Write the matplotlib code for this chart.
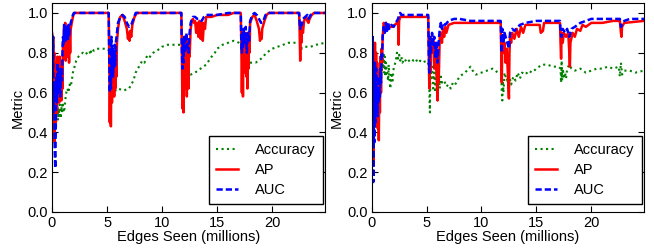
import numpy as np
import matplotlib
matplotlib.use("Agg")
import matplotlib.pyplot as plt

plt.rcParams['font.family'] = ['Liberation Sans', 'DejaVu Sans']

# ---- left panel ----
l_ap_x = [0.00, 0.05, 0.10, 0.15, 0.20, 0.25, 0.30, 0.35, 0.40, 0.45, 0.50, 0.55, 0.60, 0.65, 0.70, 0.75,
          0.80, 0.85, 0.90, 0.95, 1.00, 1.05, 1.10, 1.15, 1.20, 1.25, 1.30, 1.35, 1.40, 1.45, 1.50, 1.55,
          1.60, 1.65, 1.70, 1.80, 1.90, 2.00, 5.15, 5.20, 5.25, 5.30, 5.35, 5.40, 5.45, 5.50, 5.55, 5.60,
          5.65, 5.70, 5.75, 5.80, 5.85, 5.90, 6.00, 6.10, 6.20, 6.40, 6.60, 6.80, 6.90, 7.00, 7.05, 7.10,
          7.20, 7.30, 7.50, 7.70, 11.75, 11.80, 11.85, 11.90, 11.95, 12.00, 12.05, 12.10, 12.15, 12.20,
          12.25, 12.30, 12.35, 12.40, 12.45, 12.50, 12.60, 12.70, 12.80, 12.90, 13.00, 13.10, 13.20, 13.30,
          13.40, 13.50, 13.60, 13.70, 13.80, 13.90, 14.00, 14.50, 15.00, 16.00, 16.50, 17.15, 17.20, 17.25,
          17.30, 17.35, 17.40, 17.45, 17.50, 17.55, 17.60, 17.65, 17.70, 17.75, 17.80, 17.85, 17.90, 17.95,
          18.00, 18.20, 18.40, 18.60, 18.80, 18.90, 19.00, 19.05, 19.10, 19.30, 19.50, 19.70, 22.45, 22.50,
          22.55, 22.60, 22.65, 22.70, 22.80, 22.90, 23.00, 23.10, 23.20, 23.30, 23.40, 23.60, 23.80, 24.80]
l_ap_y = [0.90, 0.60, 0.88, 0.40, 0.80, 0.35, 0.70, 0.45, 0.75, 0.50, 0.78, 0.58, 0.75, 0.55, 0.78, 0.60,
          0.72, 0.56, 0.75, 0.62, 0.85, 0.78, 0.93, 0.80, 0.95, 0.76, 0.92, 0.78, 0.90, 0.82, 0.93, 0.75,
          0.90, 0.80, 0.92, 0.95, 0.98, 1.00, 1.00, 0.80, 0.45, 0.70, 0.43, 0.75, 0.55, 0.82, 0.60, 0.80,
          0.58, 0.78, 0.62, 0.80, 0.68, 0.85, 0.92, 0.96, 0.98, 0.99, 0.96, 0.92, 0.87, 0.90, 0.86, 0.91,
          0.88, 0.94, 0.98, 1.00, 1.00, 0.80, 0.52, 0.75, 0.50, 0.80, 0.62, 0.85, 0.65, 0.88,
          0.58, 0.82, 0.70, 0.62, 0.85, 0.78, 0.92, 0.96, 0.97, 0.95, 0.96, 0.90, 0.95, 0.88,
          0.96, 0.87, 0.95, 0.86, 0.95, 0.92, 0.98, 0.98, 0.99, 0.99, 1.00, 1.00, 0.85, 0.60,
          0.80, 0.58, 0.85, 0.70, 0.88, 0.75, 0.90, 0.68, 0.85, 0.62, 0.88, 0.72, 0.90, 0.80,
          0.95, 0.98, 0.99, 0.96, 0.92, 0.86, 0.90, 0.87, 0.92, 0.96, 0.99, 1.00, 1.00, 0.90,
          0.76, 0.92, 0.85, 0.95, 0.90, 0.96, 0.97, 0.98, 0.96, 0.95, 0.97, 0.99, 1.00, 1.00]

l_auc_x = [0.00, 0.05, 0.10, 0.15, 0.20, 0.25, 0.30, 0.35, 0.40, 0.45, 0.50, 0.55, 0.60, 0.65, 0.70, 0.75,
           0.80, 0.85, 0.90, 0.95, 1.00, 1.05, 1.10, 1.15, 1.20, 1.25, 1.30, 1.35, 1.40, 1.45, 1.50, 1.55,
           1.60, 1.70, 1.80, 1.90, 2.00, 5.15, 5.20, 5.25, 5.30, 5.35, 5.40, 5.45, 5.50, 5.55, 5.60, 5.65,
           5.70, 5.75, 5.80, 5.90, 6.00, 6.20, 6.40, 6.60, 6.80, 7.00, 7.20, 7.40, 7.60, 11.75, 11.80, 11.85,
           11.90, 11.95, 12.00, 12.10, 12.20, 12.30, 12.40, 12.50, 12.60, 12.80, 13.00, 13.20, 13.40, 13.60,
           13.80, 14.00, 15.00, 16.00, 17.15, 17.20, 17.25, 17.30, 17.35, 17.40, 17.50, 17.60, 17.70, 17.80,
           17.90, 18.00, 18.20, 18.40, 18.60, 18.80, 19.00, 19.20, 19.40, 19.60, 22.45, 22.50, 22.55, 22.60,
           22.70, 22.80, 23.00, 23.20, 23.30, 23.50, 23.70, 24.80]
l_auc_y = [0.90, 0.70, 0.88, 0.50, 0.65, 0.30, 0.22, 0.45, 0.68, 0.55, 0.75, 0.60, 0.72, 0.62, 0.70, 0.58,
           0.65, 0.72, 0.66, 0.80, 0.88, 0.84, 0.94, 0.88, 0.92, 0.85, 0.93, 0.87, 0.91, 0.86, 0.94, 0.88,
           0.92, 0.95, 0.97, 0.99, 1.00, 1.00, 0.78, 0.60, 0.72, 0.62, 0.88, 0.70, 0.82, 0.68, 0.80, 0.72,
           0.84, 0.74, 0.85, 0.90, 0.95, 0.98, 0.99, 0.98, 0.95, 0.93, 0.94, 0.97, 1.00, 1.00, 0.80, 0.72,
           0.85, 0.75, 0.88, 0.80, 0.90, 0.84, 0.80, 0.90, 0.95, 0.98, 0.98, 0.97, 0.97, 0.96,
           0.98, 0.99, 0.99, 1.00, 1.00, 0.85, 0.80, 0.90, 0.82, 0.92, 0.85, 0.93, 0.80, 0.90,
           0.86, 0.96, 0.99, 1.00, 0.99, 0.97, 0.95, 0.96, 0.99, 1.00, 1.00, 0.95, 0.92, 0.96,
           0.94, 0.97, 0.98, 0.99, 0.97, 0.99, 1.00, 1.00]

l_acc_x = [0.30, 0.35, 0.40, 0.45, 0.50, 0.55, 0.60, 0.65, 0.70, 0.75, 0.80, 0.85, 0.90, 0.95, 1.00, 1.10,
           1.20, 1.30, 1.40, 1.50, 1.60, 1.70, 1.80, 1.90, 2.00, 2.10, 2.20, 2.40, 2.60, 2.80, 3.00, 3.20,
           3.40, 3.50, 3.60, 3.80, 4.00, 4.50, 5.00, 5.20, 5.30, 5.40, 5.50, 5.60, 5.70, 5.80, 6.00, 6.50,
           7.00, 7.20, 7.40, 7.60, 7.80, 8.00, 8.20, 8.40, 8.60, 8.80, 9.00, 9.20, 9.50, 9.80, 10.00, 10.50,
           11.00, 11.50, 11.80, 11.90, 12.00, 12.30, 12.60, 13.00, 13.50, 14.00, 14.50, 14.80, 15.00, 15.50,
           16.00, 16.50, 17.00, 17.20, 17.40, 17.60, 18.00, 18.50, 19.00, 19.50, 20.00, 20.50, 21.00, 21.50,
           22.00, 22.50, 22.70, 23.00, 23.50, 24.00, 24.80]
l_acc_y = [0.52, 0.48, 0.55, 0.50, 0.53, 0.46, 0.52, 0.48, 0.54, 0.50, 0.47, 0.53, 0.50, 0.55, 0.52, 0.50,
           0.56, 0.60, 0.62, 0.60, 0.64, 0.63, 0.66, 0.70, 0.72, 0.74, 0.76, 0.78, 0.79, 0.80, 0.79, 0.80,
           0.81, 0.79, 0.82, 0.81, 0.82, 0.82, 0.82, 0.81, 0.70, 0.62, 0.65, 0.60, 0.62, 0.61, 0.62, 0.61,
           0.62, 0.64, 0.66, 0.70, 0.72, 0.74, 0.76, 0.75, 0.78, 0.77, 0.79, 0.80, 0.81, 0.82, 0.83, 0.84,
           0.84, 0.84, 0.84, 0.72, 0.70, 0.69, 0.69, 0.70, 0.72, 0.74, 0.78, 0.80, 0.82, 0.84,
           0.85, 0.86, 0.85, 0.84, 0.78, 0.75, 0.75, 0.75, 0.77, 0.80, 0.82, 0.83, 0.84, 0.85,
           0.85, 0.85, 0.82, 0.83, 0.83, 0.84, 0.85]

# ---- right panel ----
r_ap_x = [0.00, 0.05, 0.10, 0.15, 0.20, 0.25, 0.30, 0.35, 0.40, 0.45, 0.50, 0.55, 0.60, 0.65, 0.70, 0.75,
          0.80, 0.85, 0.90, 0.95, 1.00, 1.10, 1.20, 1.30, 1.40, 1.50, 1.70, 1.90, 2.10, 2.30, 2.40, 2.45,
          2.50, 2.60, 2.80, 5.15, 5.20, 5.25, 5.30, 5.35, 5.40, 5.50, 5.60, 5.70, 5.80, 5.90, 6.00, 6.05,
          6.10, 6.20, 6.30, 6.40, 6.50, 6.60, 6.70, 6.80, 7.00, 7.50, 8.00, 11.75, 11.80, 11.85, 11.90, 12.00,
          12.10, 12.20, 12.30, 12.40, 12.50, 12.55, 12.60, 12.70, 12.80, 13.00, 13.20, 13.40, 13.60, 13.80,
          14.00, 14.50, 15.00, 15.30, 15.40, 15.60, 15.70, 16.00, 17.15, 17.20, 17.25, 17.30, 17.40, 17.50,
          17.70, 17.90, 18.00, 18.05, 18.10, 18.30, 18.50, 18.70, 19.00, 19.20, 19.50, 20.00, 21.00, 22.00,
          22.60, 22.70, 22.75, 22.80, 23.00, 24.80]
r_ap_y = [0.90, 0.40, 0.80, 0.25, 0.70, 0.45, 0.85, 0.50, 0.80, 0.55, 0.75, 0.42, 0.70, 0.36, 0.65, 0.50,
          0.78, 0.60, 0.82, 0.75, 0.88, 0.95, 0.93, 0.95, 0.92, 0.94, 0.93, 0.93, 0.94, 0.95, 0.96, 0.84,
          0.96, 0.98, 0.98, 0.98, 0.80, 0.62, 0.85, 0.70, 0.88, 0.80, 0.86, 0.72, 0.85, 0.70, 0.56, 0.80,
          0.65, 0.88, 0.90, 0.85, 0.92, 0.88, 0.93, 0.90, 0.94, 0.95, 0.95, 0.95, 0.80, 0.65, 0.88, 0.80,
          0.85, 0.75, 0.82, 0.70, 0.57, 0.80, 0.88, 0.85, 0.90, 0.87, 0.92, 0.88, 0.93, 0.90,
          0.94, 0.94, 0.94, 0.94, 0.90, 0.91, 0.95, 0.95, 0.95, 0.85, 0.77, 0.90, 0.85, 0.90,
          0.88, 0.90, 0.80, 0.73, 0.85, 0.90, 0.88, 0.92, 0.91, 0.94, 0.93, 0.95, 0.95, 0.96,
          0.96, 0.90, 0.88, 0.93, 0.95, 0.96]

r_auc_x = [0.00, 0.05, 0.10, 0.15, 0.20, 0.25, 0.30, 0.35, 0.40, 0.45, 0.50, 0.55, 0.60, 0.65, 0.70, 0.75,
           0.80, 0.85, 0.90, 0.95, 1.00, 1.10, 1.20, 1.30, 1.40, 1.50, 1.60, 1.80, 2.00, 2.20, 2.40, 2.50,
           2.60, 2.70, 2.80, 5.15, 5.20, 5.25, 5.30, 5.40, 5.50, 5.60, 5.70, 5.80, 5.90, 6.00, 6.10, 6.20,
           6.30, 6.40, 6.50, 6.70, 7.00, 7.50, 8.00, 9.00, 10.00, 11.00, 11.75, 11.80, 11.85, 11.90, 12.00,
           12.10, 12.30, 12.50, 12.60, 12.80, 13.00, 13.50, 14.00, 15.00, 16.00, 17.15, 17.20, 17.30, 17.40,
           17.60, 17.80, 18.00, 18.20, 18.50, 19.00, 20.00, 21.00, 22.00, 22.60, 22.70, 22.80, 23.00, 23.50,
           24.80]
r_auc_y = [0.94, 0.50, 0.88, 0.15, 0.60, 0.35, 0.75, 0.45, 0.72, 0.50, 0.62, 0.48, 0.68, 0.55, 0.62, 0.58,
           0.72, 0.65, 0.80, 0.78, 0.88, 0.93, 0.90, 0.95, 0.91, 0.95, 0.92, 0.94, 0.93, 0.95, 0.97, 0.99,
           1.00, 0.99, 0.99, 0.99, 0.80, 0.70, 0.88, 0.80, 0.90, 0.84, 0.88, 0.78, 0.85, 0.75, 0.85, 0.92,
           0.95, 0.92, 0.95, 0.94, 0.96, 0.97, 0.97, 0.96, 0.96, 0.96, 0.96, 0.86, 0.80, 0.92, 0.85,
           0.90, 0.86, 0.82, 0.90, 0.92, 0.91, 0.94, 0.95, 0.96, 0.96, 0.96, 0.90, 0.88, 0.92,
           0.90, 0.92, 0.88, 0.92, 0.93, 0.95, 0.97, 0.97, 0.97, 0.97, 0.93, 0.94, 0.96, 0.97,
           0.97]

r_acc_x = [0.20, 0.25, 0.30, 0.35, 0.40, 0.45, 0.50, 0.55, 0.60, 0.65, 0.70, 0.75, 0.80, 0.85, 0.90, 1.00,
           1.05, 1.10, 1.15, 1.20, 1.25, 1.30, 1.40, 1.50, 1.55, 1.60, 1.70, 1.80, 1.90, 2.00, 2.10, 2.20,
           2.30, 2.40, 2.50, 2.60, 2.70, 2.80, 3.00, 3.20, 3.40, 3.60, 3.80, 4.00, 4.20, 4.40, 4.60, 5.00,
           5.20, 5.25, 5.30, 5.35, 5.40, 5.50, 5.60, 5.70, 5.80, 5.90, 6.00, 6.10, 6.20, 6.30, 6.40, 6.60,
           6.80, 7.00, 7.20, 7.40, 7.60, 7.80, 8.00, 8.50, 9.00, 9.20, 9.50, 10.00, 10.50, 11.00, 11.50,
           11.80, 11.85, 11.90, 11.95, 12.00, 12.10, 12.30, 12.50, 12.70, 12.90, 13.10, 13.30, 13.50, 13.70,
           14.00, 14.30, 14.60, 15.00, 15.50, 16.00, 16.50, 17.00, 17.20, 17.25, 17.30, 17.35, 17.40, 17.50,
           17.60, 17.70, 17.80, 18.00, 18.20, 18.50, 19.00, 19.50, 20.00, 20.50, 21.00, 21.50, 22.00, 22.50,
           22.60, 22.70, 22.80, 23.00, 23.50, 24.00, 24.80]
r_acc_y = [0.45, 0.60, 0.42, 0.65, 0.48, 0.70, 0.52, 0.72, 0.50, 0.68, 0.55, 0.72, 0.60, 0.75, 0.70, 0.78,
           0.72, 0.80, 0.70, 0.78, 0.68, 0.75, 0.70, 0.66, 0.74, 0.68, 0.62, 0.70, 0.66, 0.72, 0.74, 0.76,
           0.80, 0.77, 0.79, 0.76, 0.78, 0.75, 0.77, 0.75, 0.76, 0.77, 0.76, 0.77, 0.75, 0.76, 0.75, 0.76,
           0.74, 0.62, 0.50, 0.70, 0.66, 0.73, 0.62, 0.70, 0.60, 0.72, 0.64, 0.70, 0.62, 0.68, 0.65, 0.66,
           0.63, 0.64, 0.62, 0.65, 0.64, 0.66, 0.68, 0.70, 0.73, 0.71, 0.69, 0.70, 0.71, 0.72, 0.70,
           0.70, 0.60, 0.56, 0.66, 0.60, 0.70, 0.66, 0.69, 0.64, 0.68, 0.66, 0.70, 0.67, 0.70,
           0.69, 0.71, 0.70, 0.72, 0.74, 0.74, 0.73, 0.73, 0.72, 0.65, 0.76, 0.66, 0.72, 0.68,
           0.70, 0.67, 0.72, 0.74, 0.72, 0.71, 0.72, 0.70, 0.71, 0.72, 0.72, 0.73, 0.72, 0.73,
           0.68, 0.75, 0.69, 0.71, 0.71, 0.70, 0.71]

panels = [
    (l_acc_x, l_acc_y, l_ap_x, l_ap_y, l_auc_x, l_auc_y),
    (r_acc_x, r_acc_y, r_ap_x, r_ap_y, r_auc_x, r_auc_y),
]
positions = [[0.0795, 0.149, 0.4174, 0.839], [0.5683, 0.149, 0.4164, 0.839]]

fig = plt.figure(figsize=(6.54, 2.49), dpi=100)
for (acx, acy, apx, apy, aux, auy), pos in zip(panels, positions):
    ax = fig.add_axes(pos)
    ax.plot(acx, acy, color='g', linestyle=':', lw=1.5, label='Accuracy')
    ax.plot(apx, apy, color='r', linestyle='-', lw=1.8, label='AP')
    ax.plot(aux, auy, color='b', linestyle='--', dashes=(2.5, 1.2), lw=1.8, label='AUC')
    ax.set_xlim(0, 24.8)
    ax.set_ylim(0, 1.05)
    ax.set_xticks([0, 5, 10, 15, 20])
    ax.set_yticks([0.0, 0.2, 0.4, 0.6, 0.8, 1.0])
    ax.tick_params(direction='in', top=True, right=True, labelsize=10.5, length=4, pad=3)
    ax.set_xlabel('Edges Seen (millions)', fontsize=10.5, labelpad=0)
    ax.set_ylabel('Metric', fontsize=10.5, labelpad=2)
    leg = ax.legend(loc='lower right', bbox_to_anchor=(0.993, 0.038), borderaxespad=0,
                    fontsize=10.5, fancybox=False, handlelength=1.5, handletextpad=1.2,
                    labelspacing=0.4, borderpad=0.5, framealpha=1)
    leg.get_frame().set_edgecolor('black')

fig.savefig('out.png', dpi=100)
